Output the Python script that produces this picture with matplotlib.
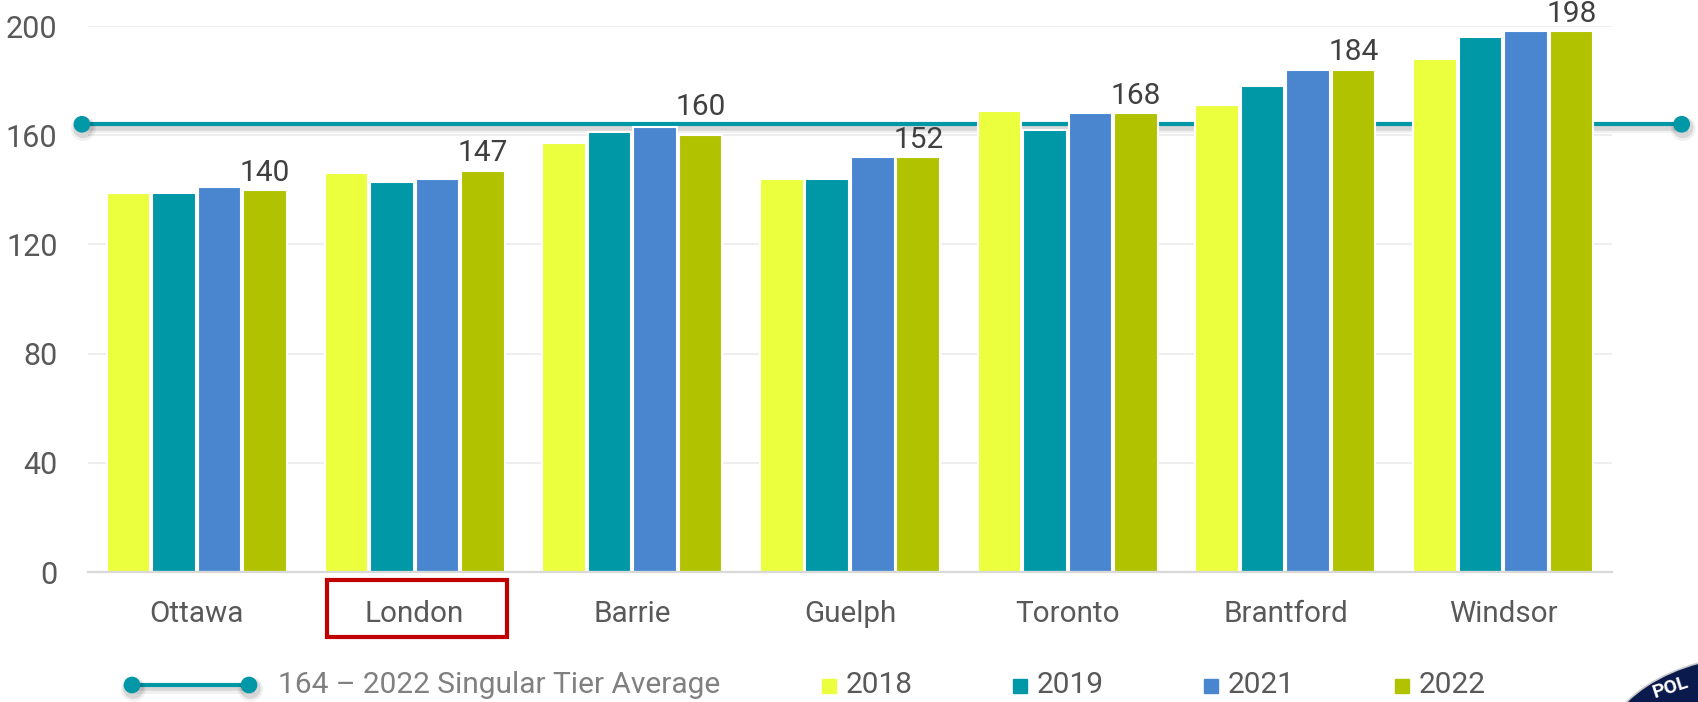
import matplotlib
matplotlib.use("Agg")
import matplotlib.pyplot as plt
import matplotlib.patheffects as pe
from matplotlib.patches import Rectangle, Ellipse
from matplotlib.lines import Line2D
import matplotlib.transforms as mtransforms
import numpy as np

# data
cities = ["Ottawa", "London", "Barrie", "Guelph", "Toronto", "Brantford", "Windsor"]
years = ["2018", "2019", "2021", "2022"]
v2018 = [139, 146, 157, 144, 169, 171, 188]
v2019 = [139, 143, 161, 144, 162, 178, 196]
v2021 = [141, 144, 163, 152, 168, 184, 198]
v2022 = [140, 147, 160, 152, 168, 184, 198]
tier_average = 164
highlight = "London"
yticks = [0, 40, 80, 120, 160, 200]

colors = ["#EBFF3E", "#0097A7", "#4A86CF", "#B0C200"]
avg_color = "#0097A7"
text_color = "#595959"

plt.rcParams["font.family"] = ["Roboto", "DejaVu Sans"]

W, H = 1698, 702
fig = plt.figure(figsize=(W / 100, H / 100), dpi=100)
ax = fig.add_axes([88 / W, 1 - 572 / H, (1612 - 88) / W, (572 - 26) / H])

x = np.arange(len(cities))
pitch = 0.209
series = [v2018, v2019, v2021, v2022]
for i, (vals, c) in enumerate(zip(series, colors)):
    ax.bar(x + (i - 1.5) * pitch, vals, width=0.2, color=c,
           edgecolor="white", linewidth=1.5, zorder=3)

# labels over the 2022 bars, pushed above the average line when they would hit it
for xi, v in zip(x, v2022):
    base = tier_average if tier_average - 10 < v < tier_average else v
    ax.text(xi + 1.5 * pitch, base + 1.2, str(v), ha="center", va="bottom",
            fontsize=21.5, color="#404040", zorder=5, clip_on=False)

# soft drop shadow under the average line
shadow = [pe.SimpleLineShadow(offset=(1, -3), shadow_color="#000000", alpha=0.06, linewidth=7),
          pe.SimpleLineShadow(offset=(1, -2.5), shadow_color="#000000", alpha=0.10, linewidth=4),
          pe.Normal()]
ax.plot([-0.528, len(cities) - 0.18], [tier_average, tier_average],
        color=avg_color, lw=3, marker="o", markersize=11, zorder=2,
        clip_on=False, path_effects=shadow)

ax.set_xlim(-0.5, len(cities) - 0.5)
ax.set_ylim(0, 200)
ax.set_yticks(yticks)
ax.set_xticks(x)
ax.set_xticklabels(cities)
ax.tick_params(axis="y", length=0, pad=22, labelsize=22, labelcolor=text_color)
ax.tick_params(axis="x", length=0, pad=20, labelsize=21.3, labelcolor=text_color)
ax.yaxis.grid(True, color="#EBEBEB", lw=1.2, zorder=0)
ax.set_axisbelow(True)
for s in ["top", "right", "left"]:
    ax.spines[s].set_visible(False)
ax.spines["bottom"].set_color("#D9D9D9")
ax.spines["bottom"].set_linewidth(1.6)
ax.spines["bottom"].set_zorder(4)

# red box round the highlighted city
hi = cities.index(highlight)
trans = mtransforms.blended_transform_factory(ax.transData, ax.transAxes)
ax.add_patch(Rectangle((hi - 0.4, -0.119), 0.825, 0.104, transform=trans,
                       fill=False, edgecolor="#C00000", lw=3,
                       clip_on=False, zorder=6))

# legend, drawn by hand
ly = 1 - 685 / H
fig.add_artist(Line2D([132 / W, 249 / W], [ly, ly], color=avg_color, lw=3,
                      marker="o", markersize=11, path_effects=shadow))
fig.text(278 / W, ly, f"{tier_average} – 2022 Singular Tier Average",
         fontsize=21.5, color="#808080", va="center")
for i, (yr, c) in enumerate(zip(years, colors)):
    px = 822 + i * 191
    fig.add_artist(Rectangle((px / W, 1 - 693 / H), 14 / W, 14 / H,
                             transform=fig.transFigure, color=c))
    fig.text((px + 24) / W, ly, yr, fontsize=21.5, color=text_color, va="center")

# corner of the badge logo
fig.add_artist(Ellipse((1760 / W, 1 - 760 / H), 320 / W, 210 / H,
                       transform=fig.transFigure, facecolor="#0B1A4D",
                       edgecolor="#C8C8C8", lw=1.2))
fig.text(1650 / W, 1 - 688 / H, "POL", fontsize=14, fontweight="bold",
         color="white", rotation=18, ha="left", va="center")

fig.savefig("out.png", dpi=100)
